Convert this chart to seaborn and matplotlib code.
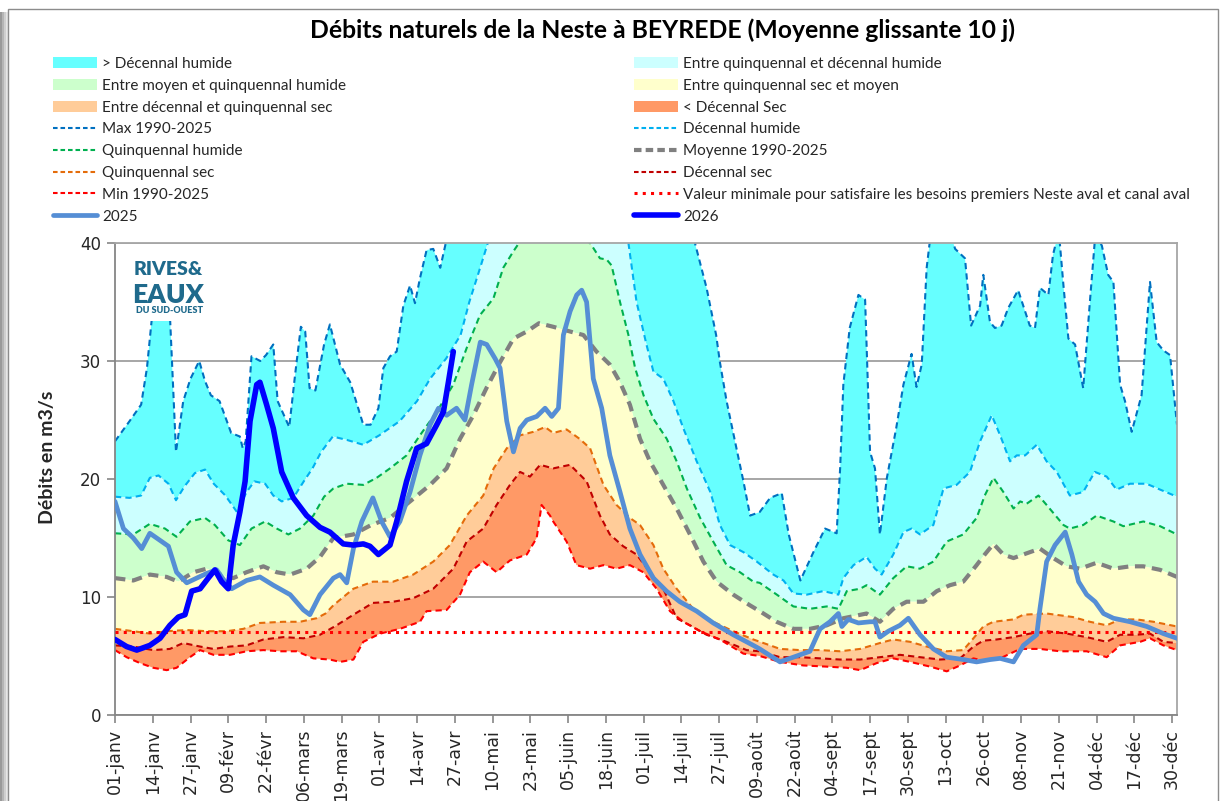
import matplotlib
matplotlib.use("Agg")
import matplotlib.pyplot as plt
from matplotlib.patches import Rectangle, Patch
from matplotlib.lines import Line2D
import seaborn as sns

# jours comptés depuis le 1er janvier (année de 366 jours), débits en m3/s
jours_ticks = list(range(0, 365, 13))
libelles_ticks = ["01-janv", "14-janv", "27-janv", "09-févr", "22-févr", "06-mars", "19-mars",
                  "01-avr", "14-avr", "27-avr", "10-mai", "23-mai", "05-juin", "18-juin",
                  "01-juil", "14-juil", "27-juil", "09-août", "22-août", "04-sept", "17-sept",
                  "30-sept", "13-oct", "26-oct", "08-nov", "21-nov", "04-déc", "17-déc", "30-déc"]

# (jour, débit)
q_max = [(0, 23.2), (5, 24.9), (9, 26.3), (11, 29.4), (12.6, 33.4), (15, 38.5), (17, 37.5), (19, 33.4),
         (21, 22.3), (23.5, 26.6), (26, 28.5), (29, 30.0), (31, 28.3), (33, 27.1), (36, 26.6), (40, 23.9),
         (43, 23.6), (44, 22.6), (45, 23.2), (47, 30.4), (50, 30.0), (52, 30.5), (54.5, 31.4), (56, 26.6),
         (60, 24.4), (62, 28.8), (64, 32.9), (65.5, 32.5), (67, 27.7), (69, 27.5), (72, 31.4), (74, 33.1),
         (77.5, 29.7), (81, 28.2), (85.5, 24.6), (88, 24.6), (90.7, 26.0), (92.4, 29.4), (94.7, 30.4),
         (97, 30.8), (99.3, 34.7), (101.6, 36.4), (103.3, 34.9), (105, 37.0), (107.3, 39.4), (109.6, 39.5),
         (112, 37.9), (114, 40.1), (120, 46), (140, 55), (160, 58), (180, 52), (195, 44), (199.7, 40.0),
         (203.7, 36.2), (207, 32.2), (208.3, 29.9), (210.6, 26.6), (214, 22.6), (216.4, 19.8), (218.7, 16.9),
         (222, 17.2), (225.6, 18.4), (229.6, 18.8), (232, 15.3), (236, 11.4), (240.5, 13.8), (244.5, 15.8),
         (248.5, 15.4), (249.7, 20.9), (250.8, 28.0), (253, 32.8), (256, 35.6), (258.3, 35.2), (260, 22.3),
         (261.7, 20.9), (263.4, 15.3), (265.8, 20.1), (269, 24.3), (271.5, 28.0), (274.3, 30.6), (276, 27.8),
         (277.8, 29.7), (279.5, 37.9), (281, 41), (285, 43), (289.3, 39.5), (292.7, 38.7), (294.8, 33.0),
         (297.9, 34.7), (299, 37.3), (301.3, 33.3), (303, 32.8), (305.3, 33.0), (307.6, 34.5), (311, 36.0),
         (315, 33.0), (316.8, 32.8), (318.5, 36.2), (321.4, 35.6), (323, 39.0), (325, 41), (326.6, 36.4),
         (328.3, 31.9), (330.6, 31.4), (333.4, 27.7), (335.7, 35.0), (337.5, 40.5), (339.8, 39.8),
         (342, 37.3), (343.8, 36.7), (346.1, 28.0), (347.8, 26.6), (350.1, 24.0), (353.5, 27.1),
         (356.4, 36.7), (358.7, 31.6), (361, 30.9), (363.3, 30.5), (365.7, 24.6)]

q_dec_humide = [(0, 18.5), (5, 18.4), (9, 18.6), (12, 20.1), (15, 20.3), (18.4, 19.6), (21, 18.2), (24, 19.4),
                (27.5, 20.5), (31, 20.8), (34, 19.6), (38, 18.6), (42, 17.2), (45.3, 18.9), (48, 19.8),
                (51.7, 19.6), (54.5, 18.6), (57.4, 18.1), (61.4, 18.4), (65, 19.8), (68, 20.9), (71, 22.3),
                (75, 23.6), (80, 23.3), (85.5, 22.9), (91, 23.7), (98, 24.9), (104, 26.6), (108.5, 28.5),
                (114, 30.2), (119, 32.2), (122, 35.0), (126, 38.1), (128.5, 40.1), (140, 45), (160, 47),
                (172, 43), (176.8, 40), (179.6, 35.0), (183, 31.4), (185.4, 29.1), (188.8, 28.5), (192.3, 26.6),
                (195.7, 24.3), (200.3, 21.5), (205, 18.9), (208.3, 16.1), (211.8, 14.4), (216.4, 13.8),
                (221, 13.0), (226.7, 11.9), (230.2, 11.4), (233.6, 10.3), (238.2, 10.2), (243.9, 10.5),
                (249.1, 10.2), (250.8, 11.6), (254.3, 12.7), (258.8, 13.4), (261.7, 12.4), (264, 11.9),
                (268, 13.6), (271.5, 15.5), (274.3, 15.8), (277.2, 15.3), (281.8, 16.1), (285.3, 19.2),
                (289.8, 19.5), (294.4, 20.6), (297.9, 23.2), (301.9, 25.4), (304.8, 23.7), (308.2, 21.5),
                (310.5, 22.0), (313.4, 22.0), (317.4, 22.9), (320.8, 21.5), (324.3, 20.6), (328.8, 18.6),
                (333.4, 18.9), (337.4, 20.6), (341.5, 20.2), (344.9, 19.1), (349.5, 19.6), (355.2, 19.6),
                (359.9, 19.1), (365.7, 18.5)]

q_quinq_humide = [(0, 15.4), (6.3, 15.3), (12, 16.2), (17.2, 15.8), (21.2, 15.1), (25.8, 16.4), (31, 16.7),
                  (34.4, 16.1), (39, 14.8), (43, 14.4), (47, 15.8), (51.7, 16.4), (55.7, 15.8), (59.7, 15.3),
                  (63.7, 15.8), (68.3, 16.9), (72, 18.5), (75.2, 19.2), (79.8, 19.6), (85.5, 19.5),
                  (90.1, 20.1), (94.7, 20.9), (100.4, 22.0), (105, 23.7), (110.8, 25.7), (116.5, 28.0),
                  (121.1, 31.1), (125.7, 33.9), (130.3, 35.3), (133.7, 37.9), (137.2, 39.3), (139.4, 40.1),
                  (150, 41.5), (163.6, 40.0), (167, 38.7), (169.3, 38.6), (171, 38.1), (173.9, 35.0),
                  (176.8, 32.2), (179.1, 29.4), (182, 27.1), (185.4, 25.1), (190, 23.4), (193.4, 21.5),
                  (196.9, 19.2), (201.5, 16.7), (206, 14.7), (210.6, 12.7), (215.2, 12.1), (219.8, 11.3),
                  (222, 11.2), (227.9, 10.2), (233.6, 9.2), (239.3, 9.0), (245.1, 9.2), (249.1, 9.0),
                  (252, 10.5), (256.6, 10.7), (258.8, 11.0), (263.4, 10.2), (268, 11.6), (272.6, 12.6),
                  (277.2, 12.4), (281.8, 13.0), (286.4, 14.7), (292.1, 15.3), (296.7, 16.7), (299.5, 18.6),
                  (302.5, 20.1), (305.9, 18.9), (309.4, 17.5), (311.7, 18.1), (313.9, 17.9), (318, 18.6),
                  (320.8, 17.8), (326.6, 16.1), (328.8, 15.8), (333.4, 16.1), (338, 16.9), (343.8, 16.4),
                  (347.2, 16.0), (354.1, 16.4), (359.9, 16.0), (365.7, 15.3)]

q_moyenne = [(0, 11.6), (6.3, 11.4), (12, 11.9), (17.8, 11.7), (21.8, 11.3), (27, 12.1), (31.6, 12.4),
             (36.2, 11.9), (40.7, 11.6), (45.3, 12.1), (51.1, 12.6), (55.7, 12.1), (60.3, 11.9), (66, 12.4),
             (70.6, 13.4), (75.2, 15.0), (82.1, 15.3), (88.2, 16.1), (94.7, 16.7), (101.6, 18.1),
             (108.5, 19.5), (114.2, 20.9), (118.8, 23.4), (123.4, 25.4), (127.9, 27.7), (132.6, 29.9),
             (137.2, 31.9), (141.8, 32.5), (146, 33.2), (150.9, 32.9), (156.7, 32.5), (161.3, 32.2),
             (165.8, 30.8), (170.4, 29.7), (173.9, 28.2), (177.3, 26.3), (180.8, 23.4), (184.2, 21.5),
             (188.8, 19.5), (193.4, 17.5), (198, 15.3), (202.6, 13.0), (207.2, 11.3), (212.9, 10.2),
             (218.6, 9.3), (222, 8.8), (227.8, 7.9), (233.6, 7.3), (239.3, 7.3), (245.1, 7.6), (250.8, 8.2),
             (258.8, 8.6), (263.4, 7.9), (268, 9.0), (272.6, 9.6), (278.4, 9.6), (283, 10.5), (287.5, 11.0),
             (292.1, 11.3), (296.7, 12.7), (299.5, 13.6), (302.5, 14.5), (305.9, 13.6), (309.4, 13.3),
             (313.9, 13.7), (318.5, 14.1), (323.1, 13.3), (327.7, 12.6), (332.3, 12.4), (338, 12.9),
             (343.8, 12.4), (349.6, 12.6), (354.1, 12.6), (359.9, 12.3), (365.7, 11.7)]

q_quinq_sec = [(0, 7.3), (6.3, 7.1), (12, 6.9), (17.8, 7.1), (24.7, 7.2), (31.6, 7.1), (38.5, 7.1), (44.2, 7.3),
               (49.9, 7.8), (58, 7.9), (63.7, 7.9), (69.4, 8.2), (72.5, 8.6), (75.2, 9.3), (82.1, 10.7),
               (88.8, 11.3), (95.8, 11.3), (102.7, 11.9), (109.6, 13.0), (115.3, 14.4), (121.1, 16.9),
               (126.8, 18.6), (130.4, 20.9), (134.9, 22.6), (139.5, 23.7), (144.1, 24.0), (148.1, 24.4),
               (150.9, 23.9), (155.5, 24.2), (160, 23.4), (163.6, 22.6), (168.2, 19.5), (172.7, 17.8),
               (177.3, 16.7), (180.8, 16.1), (185.4, 14.4), (188.8, 12.4), (193.4, 10.7), (199.1, 9.0),
               (206, 7.9), (212.9, 7.1), (219.8, 6.4), (225.6, 5.9), (229, 5.6), (235.9, 5.5), (242.8, 5.5),
               (249.7, 5.4), (256.6, 5.6), (263.4, 6.1), (268, 6.4), (273.8, 6.2), (279.5, 5.8), (286.4, 5.4),
               (292.1, 5.5), (295.6, 6.5), (299, 7.5), (302.5, 7.9), (309.4, 8.1), (312.8, 8.5), (320.8, 8.6),
               (329.9, 8.3), (335.7, 7.9), (341.5, 7.6), (346.1, 8.1), (351.8, 8.1), (357.6, 7.9), (365.7, 7.5)]

q_dec_sec = [(0, 5.9), (6.3, 5.8), (13.2, 5.5), (18.9, 5.6), (23.5, 6.1), (29.3, 5.8), (33.9, 5.6), (39.6, 5.8),
             (45.3, 5.9), (51.1, 6.4), (58, 6.6), (64.9, 6.5), (70.6, 6.8), (76.3, 7.6), (82.1, 8.5),
             (88.8, 9.5), (95.8, 9.6), (102.7, 9.9), (109.6, 10.7), (116.5, 12.4), (121.1, 14.7), (126.8, 15.8),
             (131.4, 17.8), (136, 19.5), (139.5, 20.6), (142.9, 20.2), (146.4, 21.2), (150.9, 20.9),
             (156.7, 21.2), (162.4, 19.8), (167, 16.9), (170.4, 15.3), (175, 14.3), (179.6, 13.6),
             (184.2, 12.1), (188.8, 10.7), (193.4, 8.2), (198, 7.6), (203.7, 6.8), (210.6, 6.2), (217.5, 5.5),
             (222, 5.4), (229, 4.9), (235.9, 4.9), (242.8, 4.8), (249.7, 4.7), (256.6, 4.7), (263.4, 4.9),
             (270.3, 5.1), (277.2, 4.9), (284.1, 4.7), (291, 4.8), (295.6, 5.8), (299, 6.3), (303.6, 6.4),
             (309.4, 6.6), (315.1, 6.9), (320.8, 7.1), (327.7, 6.9), (334.6, 6.6), (341.5, 6.2), (346.1, 6.8),
             (351.8, 6.8), (356.4, 6.9), (361, 6.2), (365.7, 6.1)]

q_min = [(0, 5.5), (4, 4.9), (8.6, 4.4), (13.2, 4.0), (17.8, 3.8), (21.2, 4.0), (25.8, 4.9), (29.3, 5.5),
         (33.9, 5.1), (39.6, 5.1), (45.3, 5.4), (51.1, 5.5), (56.8, 5.4), (62.6, 5.4), (68.3, 4.8), (74, 4.7),
         (77.5, 4.5), (82.1, 4.7), (85.5, 6.2), (91.3, 6.9), (98.1, 7.3), (105, 7.9), (107.3, 8.8),
         (114.2, 8.9), (118.8, 10.2), (122.2, 12.1), (126.8, 13.0), (131.4, 12.1), (136, 13.1), (141.8, 13.6),
         (145.2, 15.0), (146.9, 17.8), (149.8, 16.9), (150.9, 16.4), (155.5, 14.7), (158.9, 12.7),
         (163.6, 12.4), (168.2, 12.7), (172.7, 12.4), (177.3, 12.7), (181.9, 12.1), (186.5, 10.7),
         (191.1, 8.8), (195.7, 7.9), (201.5, 7.1), (208.3, 6.4), (216.4, 5.2), (222, 5.0), (229, 4.5),
         (237, 4.2), (245.1, 4.1), (252, 4.0), (256.6, 3.8), (262.3, 4.4), (268, 4.8), (273.8, 4.5),
         (280.7, 4.1), (286.4, 3.7), (291, 4.2), (295.6, 4.8), (299, 4.6), (304.8, 4.8), (311.7, 5.6),
         (318.5, 5.6), (325.4, 5.4), (334.6, 5.4), (341.5, 4.9), (346.1, 5.9), (353, 6.2), (356.4, 6.5),
         (361, 5.9), (365.7, 5.5)]

q_2025 = [(0, 18.1), (2.9, 15.8), (6.3, 15.0), (9.2, 14.1), (12, 15.4), (15.5, 14.8), (18.4, 14.3), (21.2, 12.1),
          (24.7, 11.2), (28.1, 11.6), (31.6, 12.0), (35, 12.3), (37.9, 11.3), (40.2, 10.7), (45.3, 11.4),
          (49.9, 11.7), (54.5, 11.0), (60.3, 10.2), (64.9, 8.9), (67.1, 8.5), (70.6, 10.2), (75.2, 11.6),
          (77.5, 11.9), (79.8, 11.2), (82.1, 14.1), (85, 16.4), (88.8, 18.4), (91.8, 16.4), (94.7, 15.1),
          (98.1, 16.4), (101.6, 18.9), (105, 22.0), (108.5, 24.6), (111.4, 26.0), (114.2, 25.4), (117.6, 26.0),
          (120.5, 25.0), (122.8, 28.0), (125.8, 31.6), (128, 31.4), (130.9, 30.2), (132.6, 29.4), (134.9, 24.9),
          (137.2, 22.3), (139.5, 24.3), (141.8, 25.0), (145.2, 25.3), (148.1, 26.0), (150.4, 25.3),
          (152.7, 26.0), (154.4, 32.2), (156.7, 34.2), (159, 35.6), (160.7, 36.0), (162.4, 35.0),
          (164.7, 28.5), (167.6, 26.0), (170.4, 22.0), (173.9, 18.9), (177.3, 15.8), (180.8, 13.6),
          (185.4, 11.6), (189.9, 10.5), (194.5, 9.6), (200.3, 8.8), (206, 7.8), (212.9, 6.8), (219.8, 5.9),
          (222, 5.6), (229, 4.5), (233.6, 4.9), (239.3, 5.4), (242.8, 7.3), (246.2, 7.9), (249.1, 8.6),
          (250.3, 7.5), (252.5, 8.1), (256, 7.8), (260, 7.9), (261.7, 7.9), (263.4, 6.6), (266.3, 7.1),
          (270.3, 7.6), (273.2, 8.2), (277.2, 6.8), (281.8, 5.6), (286.4, 4.9), (292.1, 4.7), (296.7, 4.5),
          (301.4, 4.7), (304.8, 4.8), (309.4, 4.5), (312.8, 5.9), (317.4, 6.8), (318.5, 9.0), (320.8, 13.0),
          (323.7, 14.4), (327.2, 15.5), (329.5, 13.6), (331.8, 11.3), (334.6, 10.2), (337.5, 9.6),
          (340.4, 8.6), (343.8, 8.2), (349.6, 7.9), (355.3, 7.5), (361, 6.9), (365.7, 6.5)]

q_2026 = [(0, 6.4), (4, 5.8), (7.5, 5.5), (12, 5.9), (15.5, 6.5), (18.9, 7.6), (21.8, 8.3), (24.1, 8.5),
          (26.4, 10.5), (29.3, 10.7), (32.1, 11.6), (34.4, 12.3), (36.7, 11.3), (39, 10.7), (40.7, 14.4),
          (43, 17.2), (44.8, 19.8), (46.5, 24.9), (48.8, 28.0), (49.9, 28.2), (52.2, 26.3), (54.5, 24.3),
          (57.4, 20.6), (61.4, 18.4), (66, 16.9), (70.6, 15.9), (74, 15.5), (78.6, 14.5), (82.1, 14.4),
          (85.5, 14.5), (87.8, 14.3), (90.7, 13.6), (94.7, 14.4), (97, 16.4), (100.4, 19.8), (103.9, 22.6),
          (107.3, 23.0), (110.8, 24.6), (113.1, 25.7), (114.8, 28.2), (116.5, 30.8)]

seuil_min = 7.0

# couleurs
c_sup_dh = "#66FFFF"
c_qh_dh = "#CCFFFF"
c_moy_qh = "#CCFFCC"
c_qs_moy = "#FFFFCC"
c_ds_qs = "#FFCC99"
c_inf_ds = "#FF9966"

sns.set_theme(style="white")
plt.rcParams["font.family"] = ["Lato", "DejaVu Sans"]

W, H = 1223, 801
fig = plt.figure(figsize=(W / 100, H / 100), dpi=100)
fig.patch.set_facecolor("white")

# cadre du graphique + ombre
for i, g in enumerate(["#9a9a9a", "#b5b5b5", "#cfcfcf", "#e6e6e6"]):
    fig.add_artist(Rectangle(((2 * i) / W, 0), 2 / W, 1 - 12 / H, transform=fig.transFigure,
                             fc=g, ec="none", zorder=-5))
fig.add_artist(Rectangle((8 / W, -0.01), 1210 / W, 1 - 9 / H + 0.01, transform=fig.transFigure,
                         fc="none", ec="#8c8c8c", lw=1, zorder=-4))

ax = fig.add_axes([115 / W, 1 - 715 / H, 1062 / W, 472 / H])


def bande(haut, bas, couleur):
    xh, yh = zip(*haut)
    xb, yb = zip(*bas)
    ax.fill(list(xh) + list(xb)[::-1], list(yh) + list(yb)[::-1], color=couleur, lw=0, zorder=1)


bande(q_max, q_dec_humide, c_sup_dh)
bande(q_dec_humide, q_quinq_humide, c_qh_dh)
bande(q_quinq_humide, q_moyenne, c_moy_qh)
bande(q_moyenne, q_quinq_sec, c_qs_moy)
bande(q_quinq_sec, q_dec_sec, c_ds_qs)
bande(q_dec_sec, q_min, c_inf_ds)


def courbe(serie, couleur, lw, style, z=2):
    x, y = zip(*serie)
    sns.lineplot(x=list(x), y=list(y), ax=ax, color=couleur, linewidth=lw, linestyle=style,
                 zorder=z, errorbar=None, legend=False, solid_capstyle="round", solid_joinstyle="round")


tirets = (0, (3, 2))
courbe(q_max, "#0070C0", 1.5, tirets)
courbe(q_dec_humide, "#00B0F0", 1.5, tirets)
courbe(q_quinq_humide, "#00B050", 1.5, tirets)
courbe(q_moyenne, "#808080", 3, (0, (2.5, 1.6)))
courbe(q_quinq_sec, "#E46C0A", 1.5, tirets)
courbe(q_dec_sec, "#C00000", 1.5, tirets)
courbe(q_min, "#FF0000", 1.5, tirets)
ax.axhline(seuil_min, color="#FF0000", lw=2.2, linestyle=(0, (1, 1.7)), zorder=3)
courbe(q_2025, "#558ED5", 3.4, "-", z=4)
courbe(q_2026, "#0000FF", 4.0, "-", z=5)

# axes
ax.set_xlim(0, 365.7)
ax.set_ylim(0, 40)
ax.set_xticks(jours_ticks)
ax.set_xticklabels(libelles_ticks, rotation=90, fontfamily="DejaVu Sans", fontsize=12.5)
ax.set_yticks([0, 10, 20, 30, 40])
ax.set_yticklabels(["0", "10", "20", "30", "40"], fontfamily="DejaVu Sans", fontsize=12)
ax.tick_params(axis="both", which="major", direction="out", length=6, width=1.2, color="#868686",
               left=True, bottom=True, pad=4)
ax.set_xlabel("")
ax.set_ylabel("Débits en m3/s", fontsize=14, fontweight="bold")
ax.yaxis.set_label_coords(-0.056, 0.545)
ax.grid(axis="y", color="#a6a6a6", lw=1.4, zorder=0)
ax.set_axisbelow(True)
for s in ax.spines.values():
    s.set_color("#a6a6a6")
    s.set_linewidth(1.3)
ax.spines["left"].set_color("#868686")
ax.spines["bottom"].set_color("#868686")

# logo
ax.add_patch(Rectangle((0.011, 0.835), 0.080, 0.14, transform=ax.transAxes, fc="white", ec="none", zorder=10))
c_logo = "#1F6A8C"
ax.text(0.050, 0.943, "RIVES&", transform=ax.transAxes, ha="center", va="center", fontsize=14,
        fontweight="heavy", color=c_logo, zorder=11)
ax.text(0.050, 0.890, "EAUX", transform=ax.transAxes, ha="center", va="center", fontsize=19,
        fontweight="heavy", color=c_logo, zorder=11)
ax.text(0.051, 0.856, "DU SUD-OUEST", transform=ax.transAxes, ha="center", va="center", fontsize=6.5,
        fontweight="heavy", color=c_logo, zorder=11)

# titre
fig.text(663 / W, 1 - 30 / H, "Débits naturels de la Neste à BEYREDE (Moyenne glissante 10 j)",
         ha="center", va="center", fontsize=17.8, fontweight="bold", color="black")

# légende sur deux colonnes
tir_leg = (0, (2.2, 1.4))
h_gauche = [Patch(fc=c_sup_dh, ec="none"), Patch(fc=c_moy_qh, ec="none"), Patch(fc=c_ds_qs, ec="none"),
            Line2D([], [], color="#0070C0", lw=1.5, linestyle=tir_leg),
            Line2D([], [], color="#00B050", lw=1.5, linestyle=tir_leg),
            Line2D([], [], color="#E46C0A", lw=1.5, linestyle=tir_leg),
            Line2D([], [], color="#FF0000", lw=1.5, linestyle=tir_leg),
            Line2D([], [], color="#558ED5", lw=3.4, solid_capstyle="round")]
l_gauche = ["> Décennal humide", "Entre moyen et quinquennal humide", "Entre décennal et quinquennal sec",
            "Max 1990-2025", "Quinquennal humide", "Quinquennal sec", "Min 1990-2025", "2025"]
h_droite = [Patch(fc=c_qh_dh, ec="none"), Patch(fc=c_qs_moy, ec="none"), Patch(fc=c_inf_ds, ec="none"),
            Line2D([], [], color="#00B0F0", lw=1.5, linestyle=tir_leg),
            Line2D([], [], color="#808080", lw=3, linestyle=(0, (1.8, 1.0))),
            Line2D([], [], color="#C00000", lw=1.5, linestyle=tir_leg),
            Line2D([], [], color="#FF0000", lw=2.2, linestyle=(0, (1, 1.7))),
            Line2D([], [], color="#0000FF", lw=4, solid_capstyle="round")]
l_droite = ["Entre quinquennal et décennal humide", "Entre quinquennal sec et moyen", "< Décennal Sec",
            "Décennal humide", "Moyenne 1990-2025", "Décennal sec",
            "Valeur minimale pour satisfaire les besoins premiers Neste aval et canal aval", "2026"]

for h, l, x0 in [(h_gauche, l_gauche, 53), (h_droite, l_droite, 634)]:
    fig.legend(h, l, loc="upper left", bbox_to_anchor=(x0 / W, 1 - 57 / H), frameon=False, fontsize=11,
               handlelength=2.85, handletextpad=0.35, labelspacing=0.51, borderpad=0, borderaxespad=0)

fig.savefig("out.png", dpi=100)
